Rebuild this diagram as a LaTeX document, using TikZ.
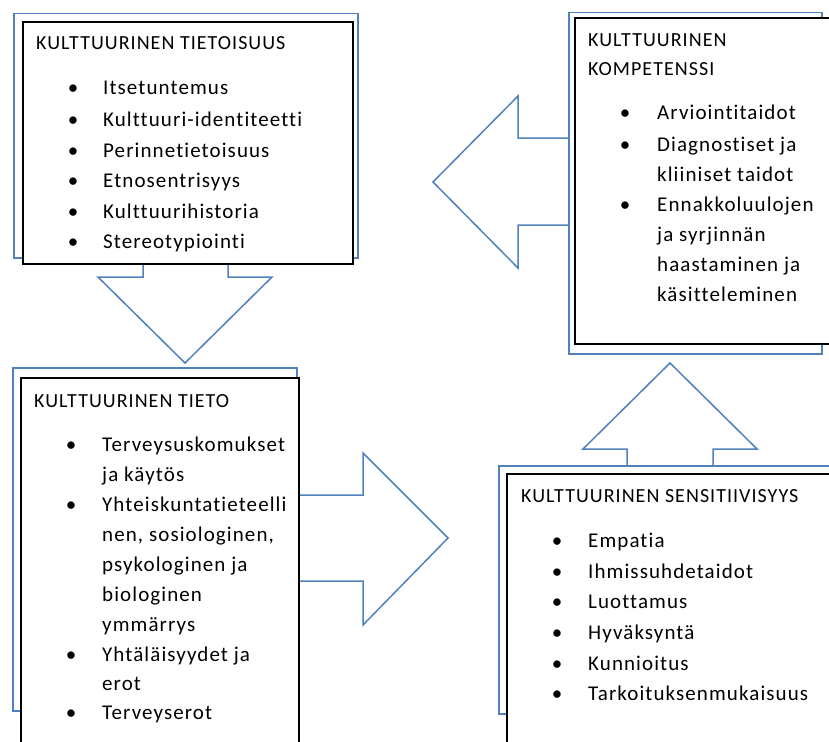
\documentclass[tikz,border=0pt]{standalone}
\usepackage{fontspec}
\setmainfont{Carlito}[LetterSpace=5.2,Ligatures={NoCommon}]
\usetikzlibrary{positioning}
\definecolor{obl}{RGB}{79,129,189}
\tikzset{
  blu/.style={draw=obl,line width=1.5pt,fill=white,line join=miter},
  blk/.style={draw=black,line width=2pt,fill=white,anchor=north west,inner sep=0pt},
  shadowbox/.style={draw=obl,line width=1.5pt,fill=white,anchor=north west,inner sep=0pt},
  hd/.style={anchor=base west,inner sep=0pt,font=\fontsize{20}{24}\selectfont},
  itm/.style={anchor=base west,inner sep=0pt,font=\fontsize{21}{25}\selectfont},
  bul/.style={anchor=base,inner sep=0pt,font=\fontsize{21}{25}\selectfont}
}
\begin{document}
\begin{tikzpicture}[x=1pt,y=-1pt]
\useasboundingbox (0,0) rectangle (829,741);
\clip (0,0) rectangle (829,741);
% block arrows
\draw[blu] (143,250) -- (143,277) -- (98,277) -- (185,363) -- (272,277) -- (228,277) -- (228,250) -- cycle;
\draw[blu] (290,495) -- (363,495) -- (363,453) -- (448,538) -- (363,625) -- (363,581) -- (290,581) -- cycle;
\draw[blu] (580,138) -- (518,138) -- (518,96) -- (433,182) -- (518,268) -- (518,225) -- (580,225) -- cycle;
\draw[blu] (627,475) -- (627,449) -- (583,449) -- (670,363) -- (757,449) -- (713,449) -- (713,475) -- cycle;
% box 1
\node[shadowbox,minimum width=344pt,minimum height=244pt] (s1) at (13,13) {};
\node[blk,minimum width=330pt,minimum height=242pt] (b1) at (22,21) {};
% box 2
\node[shadowbox,minimum width=284pt,minimum height=343pt] (s2) at (12,367) {};
\node[blk,minimum width=278pt,minimum height=400pt] (b2) at (20,377) {};
% box 3
\node[shadowbox,minimum width=253pt,minimum height=341pt] (s3) at (568,12) {};
\node[blk,minimum width=280pt,minimum height=326pt] (b3) at (574,17) {};
% box 4
\node[shadowbox,minimum width=350pt,minimum height=248pt] (s4) at (498,465) {};
\node[blk,minimum width=350pt,minimum height=300pt] (b4) at (506,473) {};
% texts box 1
\node[hd] (h1) at (36,50) {KULTTUURINEN TIETOISUUS};
\foreach \y/\t [count=\i] in {95/Itsetuntemus,126/Kulttuuri-identiteetti,157/Perinnetietoisuus,187/Etnosentrisyys,218/Kulttuurihistoria,248/Stereotypiointi}{
  \node[bul] (p1b\i) at (73,\y) {•};
  \node[itm] (p1t\i) at (103,\y) {\t};
}
% texts box 2
\node[hd] (h2) at (34,407) {KULTTUURINEN TIETO};
\foreach \y/\t [count=\i] in {451/Terveysuskomukset,481/ja käytös,511/Yhteiskuntatieteelli,541/{nen, sosiologinen,},571/psykologinen ja,601/biologinen,631/ymmärrys,661/Yhtäläisyydet ja,690/erot,719/Terveyserot}{
  \node[itm] (p2t\i) at (102,\y) {\t};
}
\foreach \y [count=\i] in {451,511,661,719}{
  \node[bul] (p2b\i) at (71,\y) {•};
}
% texts box 3
\node[hd] (h3a) at (588,47) {KULTTUURINEN};
\node[hd] (h3b) at (588,76) {KOMPETENSSI};
\foreach \y/\t [count=\i] in {120/Arviointitaidot,151/Diagnostiset ja,181/kliiniset taidot,211/Ennakkoluulojen,241/ja syrjinnän,271/haastaminen ja,301/käsitteleminen}{
  \node[itm] (p3t\i) at (657,\y) {\t};
}
\foreach \y [count=\i] in {120,151,211}{
  \node[bul] (p3b\i) at (625,\y) {•};
}
% texts box 4
\node[hd] (h4) at (521,502) {KULTTUURINEN SENSITIIVISYYS};
\foreach \y/\t [count=\i] in {547/Empatia,578/Ihmissuhdetaidot,608/Luottamus,639/Hyväksyntä,670/Kunnioitus,700/Tarkoituksenmukaisuus}{
  \node[bul] (p4b\i) at (557,\y) {•};
  \node[itm] (p4t\i) at (588,\y) {\t};
}
\end{tikzpicture}
\end{document}
